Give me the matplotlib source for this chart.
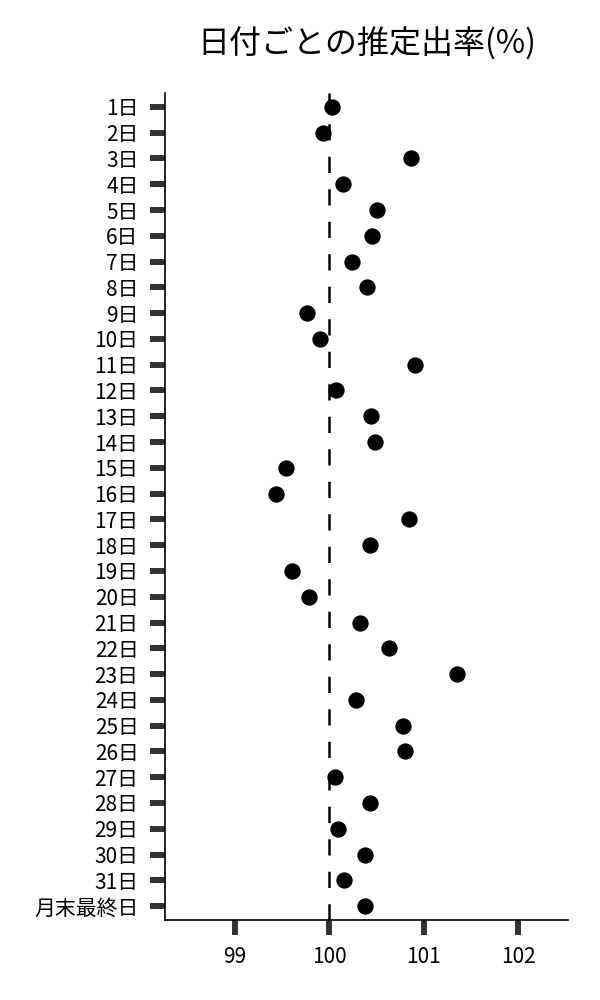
import matplotlib.pyplot as plt

plt.rcParams['font.family'] = ['Noto Sans CJK JP', 'DejaVu Sans']

# 日付ラベルと推定出率
days = [f'{i}日' for i in range(1, 32)] + ['月末最終日']
rates = [100.03, 99.93, 100.86, 100.15, 100.51, 100.45, 100.24, 100.40,
         99.76, 99.90, 100.91, 100.07, 100.44, 100.48, 99.54, 99.44,
         100.84, 100.43, 99.61, 99.78, 100.32, 100.63, 101.35, 100.28,
         100.78, 100.80, 100.06, 100.43, 100.09, 100.38, 100.16, 100.38]
xticks = [99, 100, 101, 102]

fig = plt.figure(figsize=(6, 10), dpi=100)
ax = fig.add_axes([0.275, 0.08, 0.672, 0.827])

pos = list(range(len(days)))
ax.axvline(100, color='black', lw=1.8, linestyle=(0, (6.5, 6.5)), zorder=1)
ax.scatter(rates, pos, s=115, color='black', zorder=3)

ax.set_xlim(98.26, 102.53)
ax.set_ylim(len(days) - 0.46, -0.54)
ax.set_yticks(pos)
ax.set_yticklabels(days)
ax.set_xticks(xticks)
ax.set_xticklabels([str(t) for t in xticks])

ax.tick_params(axis='both', length=11, width=4.3, color='#333333',
               labelsize=15, pad=8)
for side in ['top', 'right']:
    ax.spines[side].set_visible(False)
ax.spines['left'].set_linewidth(1.2)
ax.spines['bottom'].set_linewidth(1.2)

ax.set_title('日付ごとの推定出率(%)', fontsize=23, pad=28)

plt.savefig('out.png')
